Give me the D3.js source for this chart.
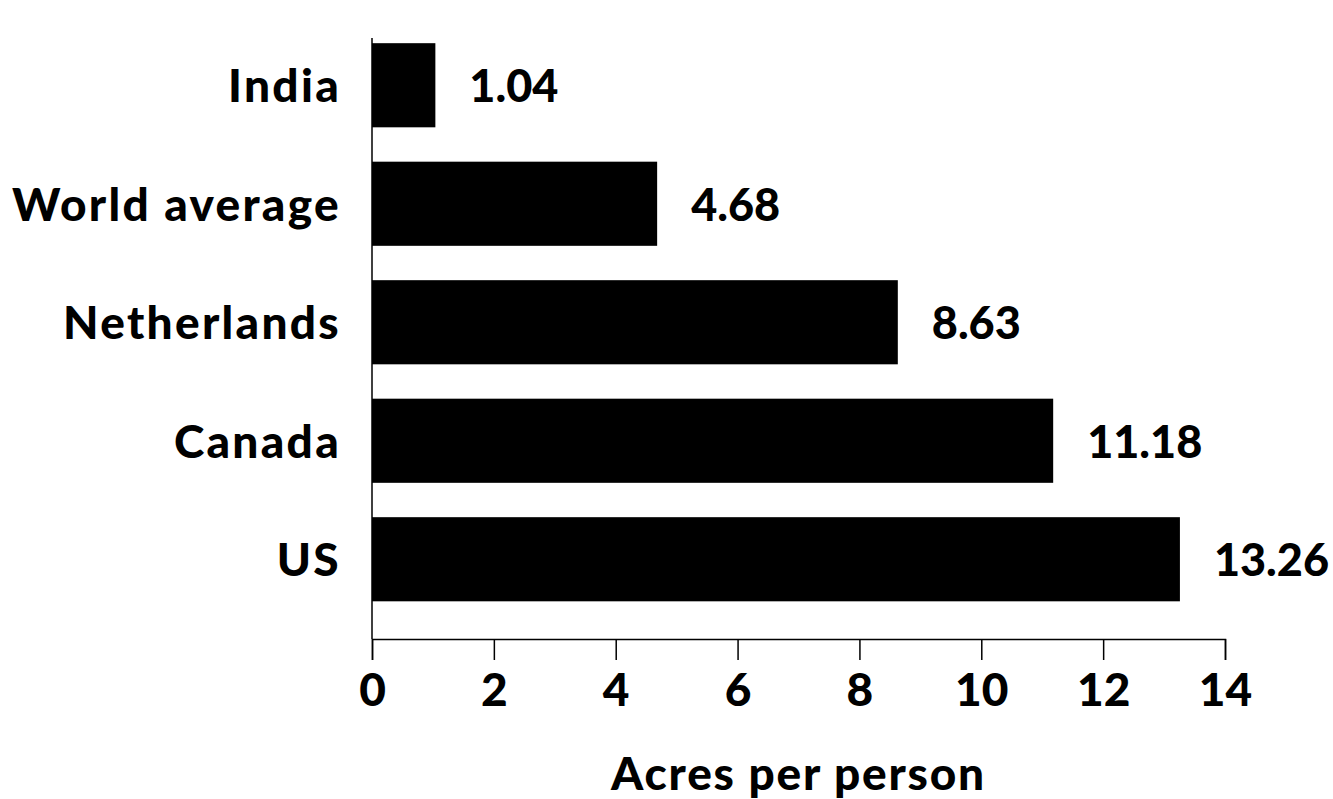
<!DOCTYPE html>
<html>
<head>
<meta charset="utf-8">
<script src="https://cdn.jsdelivr.net/npm/d3@7"></script>
<style>
    body { margin: 0; background: #fff; }
    text { font-family: Lato, "Open Sans", sans-serif; font-weight: 900; fill: #000; }
</style>
</head>
<body>
<svg id="chart" width="1333" height="799"></svg>
<script>
    const countries = ['India', 'World average', 'Netherlands', 'Canada', 'US'];
    const acres = [1.04, 4.68, 8.63, 11.18, 13.26];
    const valueLabels = ['1.04', '4.68', '8.63', '11.18', '13.26'];
    const xTicks = [0, 2, 4, 6, 8, 10, 12, 14];
    const xTitle = 'Acres per person';

    const svg = d3.select('#chart');

    const x = d3.scaleLinear().domain([0, 14]).range([372, 1225]);
    const y = d3.scaleBand()
        .domain(countries)
        .range([26, 618.5])
        .paddingInner(0.29)
        .paddingOuter(0.145);

    const axisY = 639;

    // bars
    svg.append('g')
        .selectAll('rect')
        .data(countries)
        .join('rect')
        .attr('x', x(0))
        .attr('y', d => y(d))
        .attr('width', (d, i) => x(acres[i]) - x(0))
        .attr('height', y.bandwidth())
        .attr('fill', '#000');

    // value labels
    svg.append('g')
        .selectAll('text')
        .data(countries)
        .join('text')
        .attr('x', (d, i) => x(acres[i]) + 34)
        .attr('y', d => y(d) + y.bandwidth() / 2 + 17)
        .style('font-size', '45px')
        .text((d, i) => valueLabels[i]);

    // category labels
    svg.append('g')
        .selectAll('text')
        .data(countries)
        .join('text')
        .attr('x', 341)
        .attr('y', d => y(d) + y.bandwidth() / 2 + 17)
        .attr('text-anchor', 'end')
        .style('font-size', '46px')
        .style('letter-spacing', '2.3px')
        .text(d => d);

    // left axis line
    svg.append('line')
        .attr('x1', x(0)).attr('x2', x(0))
        .attr('y1', 38).attr('y2', axisY)
        .attr('stroke', '#000').attr('stroke-width', 1.5);

    // bottom axis
    const xAxis = d3.axisBottom(x)
        .tickValues(xTicks)
        .tickSize(21)
        .tickSizeOuter(21)
        .tickPadding(13)
        .tickFormat(d3.format('d'));

    const gx = svg.append('g')
        .attr('transform', `translate(0,${axisY})`)
        .call(xAxis);
    gx.select('.domain').attr('stroke', '#000').attr('stroke-width', 1.5);
    gx.selectAll('.tick line').attr('stroke', '#000').attr('stroke-width', 1.5);
    gx.selectAll('.tick text')
        .attr('font-family', null)
        .attr('font-size', null)
        .style('font-size', '46px')
        .attr('fill', '#000');

    // x title
    svg.append('text')
        .attr('x', (x(0) + x(14)) / 2)
        .attr('y', 790)
        .attr('text-anchor', 'middle')
        .style('font-size', '46px')
        .style('letter-spacing', '1.8px')
        .text(xTitle);
</script>
</body>
</html>
